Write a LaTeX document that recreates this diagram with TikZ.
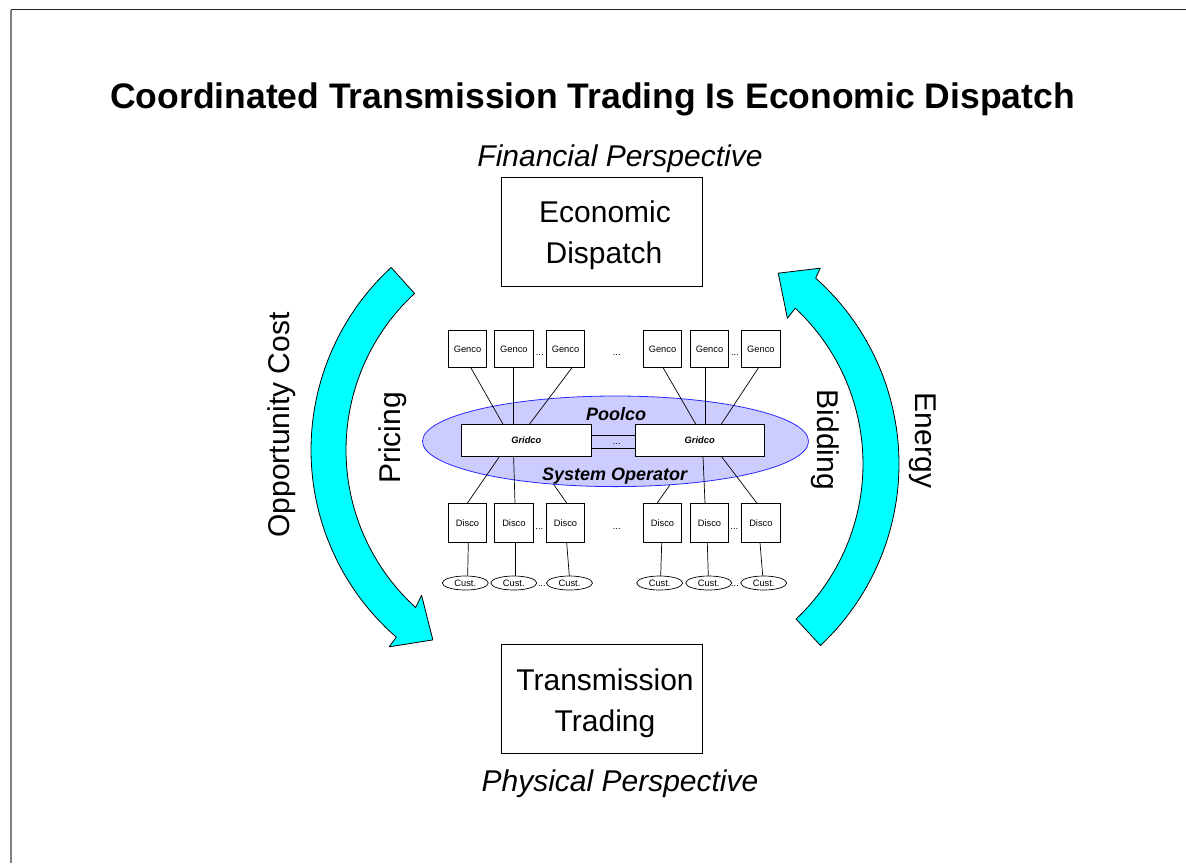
\documentclass[tikz,border=0pt]{standalone}
\usepackage{fontspec}
\setmainfont{Liberation Sans}
\usetikzlibrary{calc,shapes.geometric}
\definecolor{arrowcyan}{RGB}{0,255,255}
\definecolor{poolfill}{RGB}{204,204,255}
\definecolor{poolline}{RGB}{40,40,255}
\begin{document}
\begin{tikzpicture}[x=1pt,y=-1pt,
  big/.style={font=\fontsize{30}{36}\selectfont, inner sep=0pt, anchor=base},
  bigbox/.style={draw, line width=0.9pt, minimum width=201, minimum height=109, inner sep=0pt},
  unitbox/.style={draw, fill=white, line width=0.7pt, minimum width=38.4, minimum height=#1, inner sep=0pt, font=\fontsize{9.3}{11}\selectfont},
  custnode/.style={ellipse, draw, fill=white, line width=0.7pt, minimum width=46, minimum height=14, inner sep=0pt, font=\fontsize{9.3}{11}\selectfont},
  gridbox/.style={draw, fill=white, line width=0.7pt, minimum width=129.3, minimum height=31.7, inner sep=0pt, font=\bfseries\itshape\fontsize{9.3}{11}\selectfont},
  dotlabel/.style={font=\fontsize{9.3}{11}\selectfont, inner sep=0pt, anchor=base},
  wire/.style={line width=0.7pt},
  bigarrow/.style={draw=black, line width=0.8pt, fill=arrowcyan, line join=round},
]
\useasboundingbox (0,0) rectangle (1186,863);
% frame
\draw[line width=1.3pt, black!85] (11,9.5) -- (1186,9.5);
\draw[line width=1.3pt, gray] (11,9.5) -- (11,863);

% title and perspectives
\node[font=\bfseries\fontsize{35.5}{40}\selectfont, inner sep=0pt, anchor=base] (title) at (592.5,108) {Coordinated Transmission Trading Is Economic Dispatch};
\node[big, font=\itshape\fontsize{30}{36}\selectfont] (finpersp) at (620,166) {Financial Perspective};
\node[big, font=\itshape\fontsize{30}{36}\selectfont] (physpersp) at (620,791) {Physical Perspective};

% main boxes
\node[bigbox] (edbox) at (602,231.7) {};
\node[big] (edl1) at (605,222.7) {Economic};
\node[big] (edl2) at (604,263.3) {Dispatch};
\node[bigbox] (ttbox) at (602,698.7) {};
\node[big] (ttl1) at (605,690.7) {Transmission};
\node[big] (ttl2) at (605,731) {Trading};

% curved arrows
\draw[bigarrow]
  plot[domain=227.4:131, samples=60] ({559+248*cos(\x)},{450+248*sin(\x)})
  -- ({559+260*cos(130.8)},{450+260*sin(130.8)})
  -- ({559+228*cos(123.6)},{450+228*sin(123.6)})
  -- ({559+200*cos(133.4)},{450+200*sin(133.4)})
  -- plot[domain=132.3:227.3, samples=60] ({559+213*cos(\x)},{450+213*sin(\x)})
  -- cycle;
\draw[bigarrow]
  plot[domain=46.8:-48.3, samples=60] ({650+249*cos(\x)},{464+249*sin(\x)})
  -- ({650+259.5*cos(-49)},{464+259.5*sin(-49)})
  -- ({650+229.9*cos(-56.1)},{464+229.9*sin(-56.1)})
  -- ({650+200.3*cos(-46.7)},{464+200.3*sin(-46.7)})
  -- plot[domain=-47:46.7, samples=60] ({650+213*cos(\x)},{464+213*sin(\x)})
  -- cycle;

% side labels
\node[big, rotate=90] (oppcost) at (289,425) {Opportunity Cost};
\node[big, rotate=90] (pricing) at (400,438) {Pricing};
\node[big, rotate=-90] (bidding) at (817,440) {Bidding};
\node[big, rotate=-90] (energy) at (915,440.5) {Energy};

% pool ellipse
\node[ellipse, draw=poolline, fill=poolfill, line width=0.8pt, minimum width=386, minimum height=90.6, inner sep=0pt] (pool) at (615.5,441.3) {};

% gencos
\node[unitbox=37] (genco1) at (467.5,349.2) {Genco};
\node[unitbox=37] (genco2) at (513.9,349.2) {Genco};
\node[unitbox=37] (genco3) at (565.5,349.2) {Genco};
\node[unitbox=37] (genco4) at (662.5,349.2) {Genco};
\node[unitbox=37] (genco5) at (709.5,349.2) {Genco};
\node[unitbox=37] (genco6) at (760.9,349.2) {Genco};
\node[dotlabel] (gdots1) at (539.7,355) {...};
\node[dotlabel] (gdots2) at (616.7,355) {...};
\node[dotlabel] (gdots3) at (735,355) {...};

% gridcos
\node[gridbox] (gridL) at (526.3,440.2) {Gridco};
\node[gridbox] (gridR) at (699.7,440.2) {Gridco};
\draw[wire] ([yshift=-10.9]gridL.north east) -- ([yshift=-10.9]gridR.north west);
\draw[wire] ([yshift=-24.1]gridL.north east) -- ([yshift=-24.1]gridR.north west);
\node[dotlabel] (griddots) at (616.7,444) {...};

% discos
\node[unitbox=39] (disco1) at (467.5,522.8) {Disco};
\node[unitbox=39] (disco2) at (513.9,522.8) {Disco};
\node[unitbox=39] (disco3) at (565.5,522.8) {Disco};
\node[unitbox=39] (disco4) at (662.5,522.8) {Disco};
\node[unitbox=39] (disco5) at (709.5,522.8) {Disco};
\node[unitbox=39] (disco6) at (760.9,522.8) {Disco};
\node[dotlabel] (ddots1) at (539.3,529) {...};
\node[dotlabel] (ddots2) at (616.7,529) {...};
\node[dotlabel] (ddots3) at (734.3,529) {...};

% customers
\node[custnode] (cust1) at (465.3,583) {Cust.};
\node[custnode] (cust2) at (513.8,583) {Cust.};
\node[custnode] (cust3) at (569.5,583) {Cust.};
\node[custnode] (cust4) at (659.7,583) {Cust.};
\node[custnode] (cust5) at (708.7,583) {Cust.};
\node[custnode] (cust6) at (763.7,583) {Cust.};
\node[dotlabel] (cdots1) at (541.7,586.5) {...};
\node[dotlabel] (cdots2) at (735,586.5) {...};

% genco - gridco wires
\draw[wire] ([xshift=3.5]genco1.south) -- ([xshift=41.6]gridL.north west);
\draw[wire] ([xshift=-0.6]genco2.south) -- ([xshift=-0.6]genco2.south |- gridL.north);
\draw[wire] ([xshift=6.2]genco3.south) -- ([xshift=68.3]gridL.north west);
\draw[wire] ([xshift=0.8]genco4.south) -- ([xshift=61]gridR.north west);
\draw[wire] ([xshift=-4.5]genco5.south) -- ([xshift=-4.5]genco5.south |- gridR.north);
\draw[wire] ([xshift=-2.6]genco6.south) -- ([xshift=86.7]gridR.north west);

% gridco - disco wires
\draw[wire] ([xshift=38.3]gridL.south west) -- (disco1.north);
\draw[wire] ([xshift=52.3]gridL.south west) -- ([xshift=1.1]disco2.north);
\draw[wire] (pool.215) -- ([xshift=1.2]disco3.north);
\draw[wire] (pool.321) -- ([xshift=-5.2]disco4.north);
\draw[wire] ([xshift=68.3]gridR.south west) -- ([xshift=-4.5]disco5.north);
\draw[wire] ([xshift=86.7]gridR.south west) -- ([xshift=-4.2]disco6.north);

% disco - customer wires
\draw[wire] ([xshift=0.8]disco1.south) -- ([xshift=2.4]cust1.north);
\draw[wire] ([xshift=1.1]disco2.south) -- ([xshift=1.2]cust2.north);
\draw[wire] ([xshift=1.2]disco3.south) -- ([xshift=-0.2]cust3.north);
\draw[wire] ([xshift=-0.8]disco4.south) -- ([xshift=1]cust4.north);
\draw[wire] ([xshift=-2.2]disco5.south) -- ([xshift=-0.4]cust5.north);
\draw[wire] ([xshift=-0.9]disco6.south) -- ([xshift=-1]cust6.north);

% pool labels
\node[font=\bfseries\itshape\fontsize{18}{22}\selectfont, inner sep=0pt, anchor=base] (poolco) at (616,420) {Poolco};
\node[font=\bfseries\itshape\fontsize{18}{22}\selectfont, inner sep=0pt, anchor=base] (sysop) at (614.7,480.7) {System Operator};
\end{tikzpicture}
\end{document}
